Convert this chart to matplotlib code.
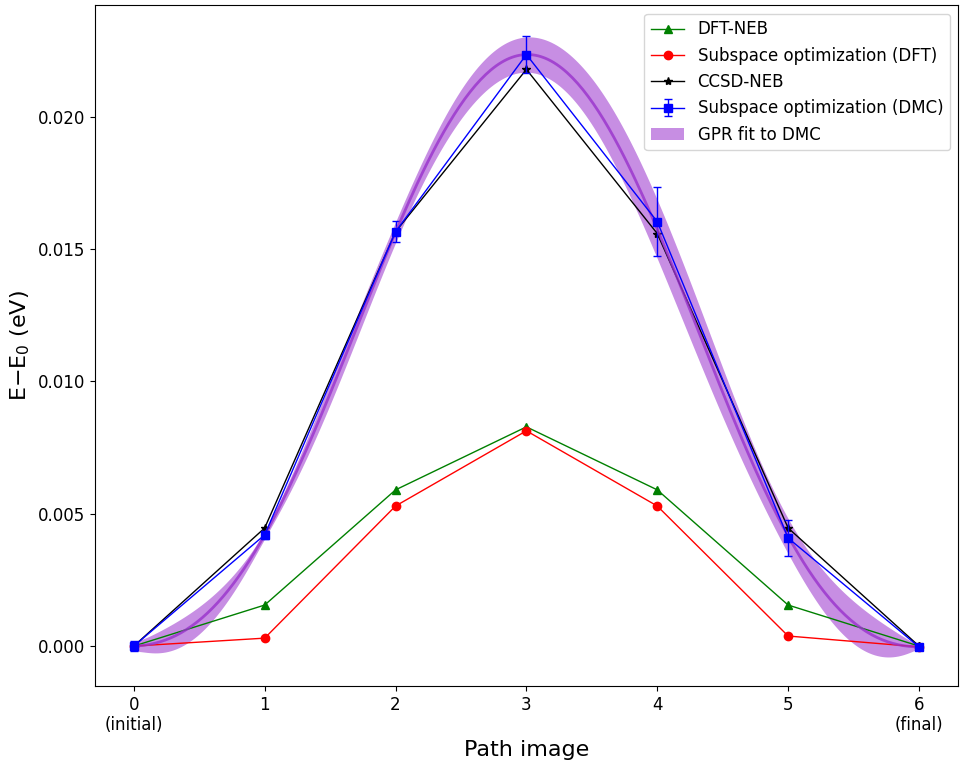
import numpy as np
import matplotlib.pyplot as plt

# path images
images = np.arange(7)
tick_labels = ["0\n(initial)", "1", "2", "3", "4", "5", "6\n(final)"]

# energies relative to initial image (eV)
dft_neb = [0.0, 0.00155, 0.0059, 0.00828, 0.0059, 0.00155, 0.0]
sub_dft = [0.0, 0.0003, 0.00529, 0.00813, 0.00529, 0.00038, -0.00003]
ccsd_neb = [0.0, 0.00446, 0.01565, 0.02178, 0.01558, 0.00446, 0.0]
sub_dmc = [0.0, 0.0042, 0.01565, 0.02234, 0.01603, 0.00408, -0.00003]
sub_dmc_err = [0.0002, 0.00015, 0.0004, 0.0007, 0.0013, 0.00068, 0.0001]


# simple GP regression (RBF kernel) on the DMC points
def rbf(a, b, amp, ell):
    return amp**2 * np.exp(-0.5 * (a[:, None] - b[None, :])**2 / ell**2)


def gpr_fit(x, y, err, x_new, amp=0.012, ell=1.35):
    x = np.asarray(x, float)
    y = np.asarray(y, float)
    K = rbf(x, x, amp, ell) + np.diag(np.asarray(err)**2)
    Ks = rbf(x_new, x, amp, ell)
    Kss = rbf(x_new, x_new, amp, ell)
    alpha = np.linalg.solve(K, y)
    mu = Ks @ alpha
    v = np.linalg.solve(K, Ks.T)
    var = np.diag(Kss) - np.sum(Ks * v.T, axis=1)
    return mu, np.sqrt(np.clip(var, 0, None))


x_fine = np.linspace(0, 6, 300)
mu, sd = gpr_fit(images, sub_dmc, sub_dmc_err, x_fine)

fig, ax = plt.subplots(figsize=(9.65, 7.62), dpi=100)

ax.plot(images, dft_neb, '-^', color='green', lw=1, ms=6, label='DFT-NEB')
ax.plot(images, sub_dft, '-o', color='red', lw=1, ms=6, label='Subspace optimization (DFT)')
ax.plot(images, ccsd_neb, '-*', color='black', lw=1, ms=6, label='CCSD-NEB')
ax.errorbar(images, sub_dmc, yerr=sub_dmc_err, fmt='-s', color='blue', lw=1, ms=6,
            capsize=3, label='Subspace optimization (DMC)')
ax.plot(x_fine, mu, color='darkorchid', lw=2, alpha=0.8)
ax.fill_between(x_fine, mu - sd, mu + sd, color='darkorchid', alpha=0.55, lw=0,
                label='GPR fit to DMC')

ax.set_xticks(images)
ax.set_xticklabels(tick_labels)
ax.tick_params(labelsize=12)
ax.set_xlabel('Path image', fontsize=16)
ax.set_ylabel(r'E$-$E$_0$ (eV)', fontsize=16)
ax.set_ylim(-0.0015, 0.0242)

handles, labels = ax.get_legend_handles_labels()
order = [labels.index(l) for l in ['DFT-NEB', 'Subspace optimization (DFT)', 'CCSD-NEB',
                                    'Subspace optimization (DMC)', 'GPR fit to DMC']]
ax.legend([handles[i] for i in order], [labels[i] for i in order], fontsize=12, loc='upper right')

plt.subplots_adjust(left=0.098, right=0.993, top=0.993, bottom=0.1)
plt.savefig('out.png')
